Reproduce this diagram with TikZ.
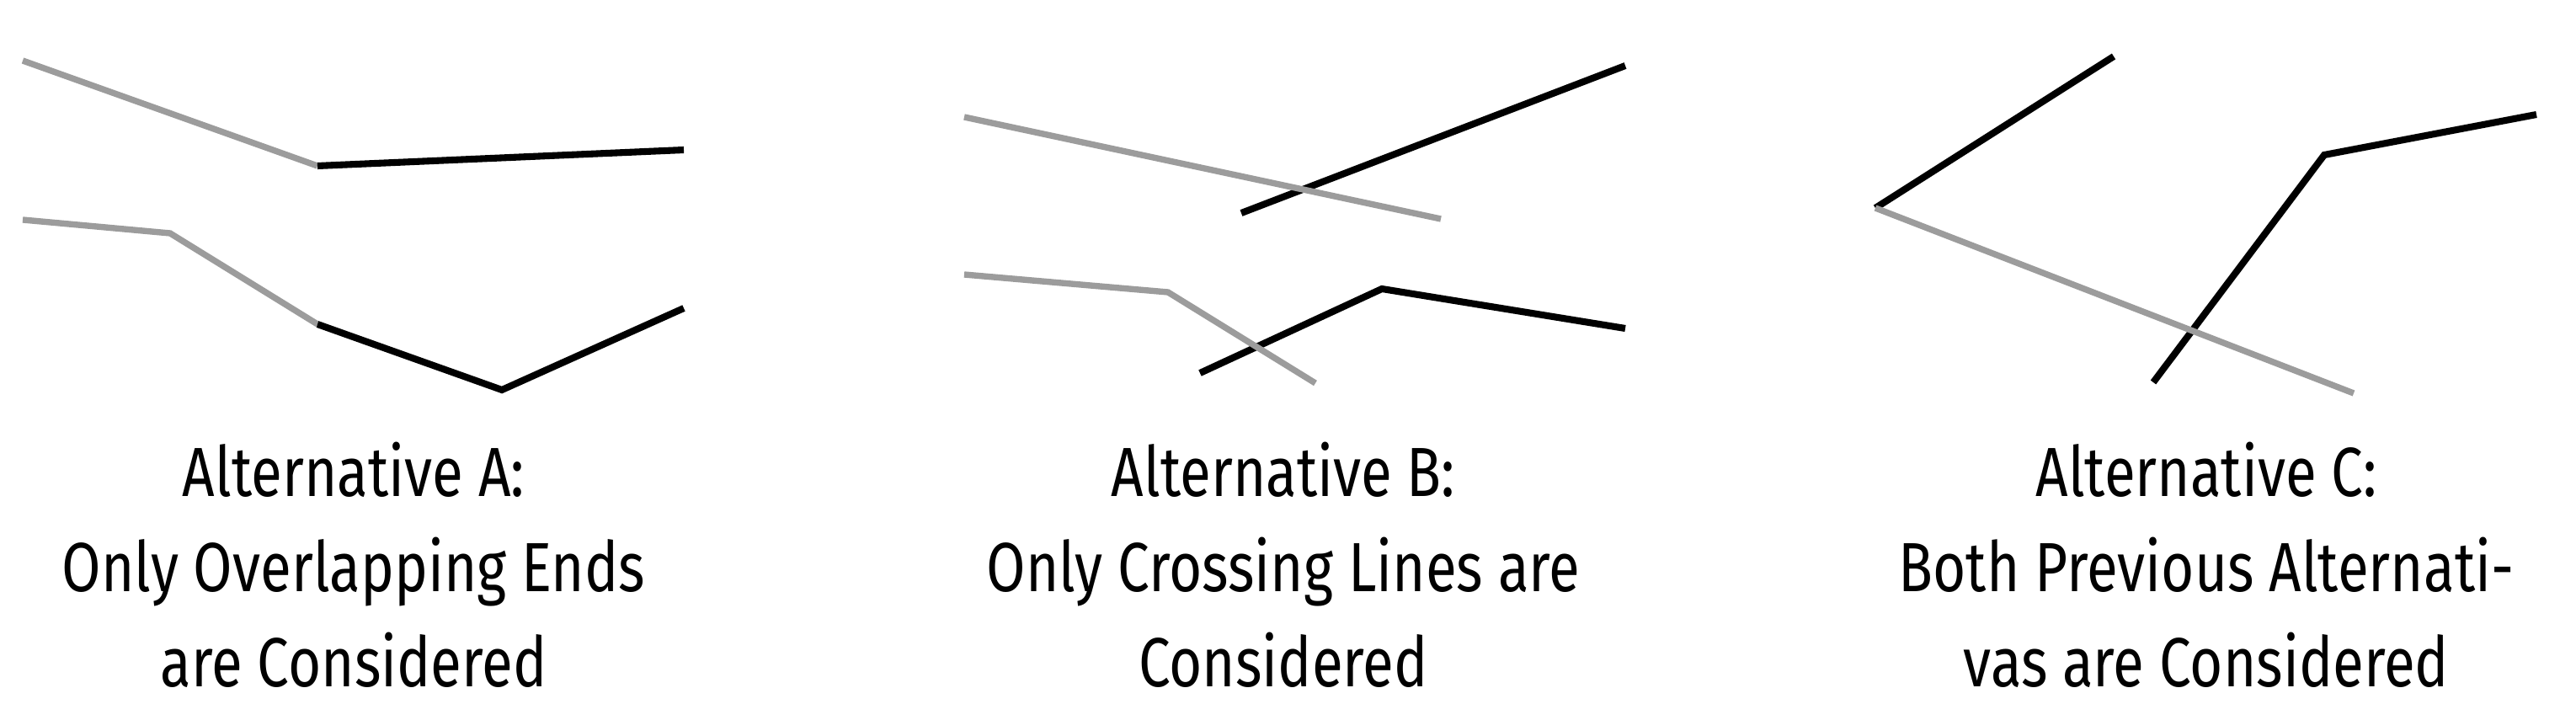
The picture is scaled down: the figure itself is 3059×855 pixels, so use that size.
\documentclass[tikz,border=0pt]{standalone}
\usepackage{fontspec}
\setmainfont{Fira Sans}[FakeStretch=0.815]
\definecolor{oldline}{RGB}{156,156,156}
\tikzset{
  newpath/.style={draw=black,line width=2.3pt,line join=miter},
  oldpath/.style={draw=oldline,line width=2.1pt,line join=miter},
  caption/.style={align=center,anchor=base,inner sep=0pt,
    font=\fontsize{23.5}{32}\selectfont}
}
\begin{document}
\begin{tikzpicture}[x=0.01cm,y=-0.01cm]
 \useasboundingbox (0,0) rectangle (3059,855);
 % alternative A: overlapping ends
 \coordinate (a1) at (27,72);   \coordinate (a2) at (377,197); \coordinate (a3) at (812,178);
 \coordinate (a4) at (27,261);  \coordinate (a5) at (202,277); \coordinate (a6) at (377,385);
 \coordinate (a7) at (596,463); \coordinate (a8) at (812,366);
 \draw[oldpath] (a1)--(a2); \draw[newpath] (a2)--(a3);
 \draw[oldpath] (a4)--(a5)--(a6); \draw[newpath] (a6)--(a7)--(a8);
 \node[caption] (capA) at (420,815) {Alternative A:\\Only Overlapping Ends\\are Considered};
 % alternative B: crossing lines
 \coordinate (b1) at (1145,139); \coordinate (b2) at (1711,260);
 \coordinate (b3) at (1474,253); \coordinate (b4) at (1930,78);
 \coordinate (b5) at (1145,326); \coordinate (b6) at (1387,347); \coordinate (b7) at (1562,455);
 \coordinate (b8) at (1425,443); \coordinate (b9) at (1641,343); \coordinate (b10) at (1930,390);
 \draw[newpath] (b3)--(b4); \draw[oldpath] (b1)--(b2);
 \draw[newpath] (b8)--(b9)--(b10); \draw[oldpath] (b5)--(b6)--(b7);
 \node[caption] (capB) at (1524,815) {Alternative B:\\Only Crossing Lines are\\Considered};
 % alternative C: both
 \coordinate (c1) at (2227,247); \coordinate (c2) at (2510,67); \coordinate (c3) at (2795,467);
 \coordinate (c4) at (2557,454); \coordinate (c5) at (2760,184); \coordinate (c6) at (3012,136);
 \draw[newpath] (c1)--(c2); \draw[newpath] (c4)--(c5)--(c6);
 \draw[oldpath] (c1)--(c3);
 \node[caption] (capC) at (2620,815) {Alternative C:\\Both Previous Alternati-\\vas are Considered};
\end{tikzpicture}
\end{document}
